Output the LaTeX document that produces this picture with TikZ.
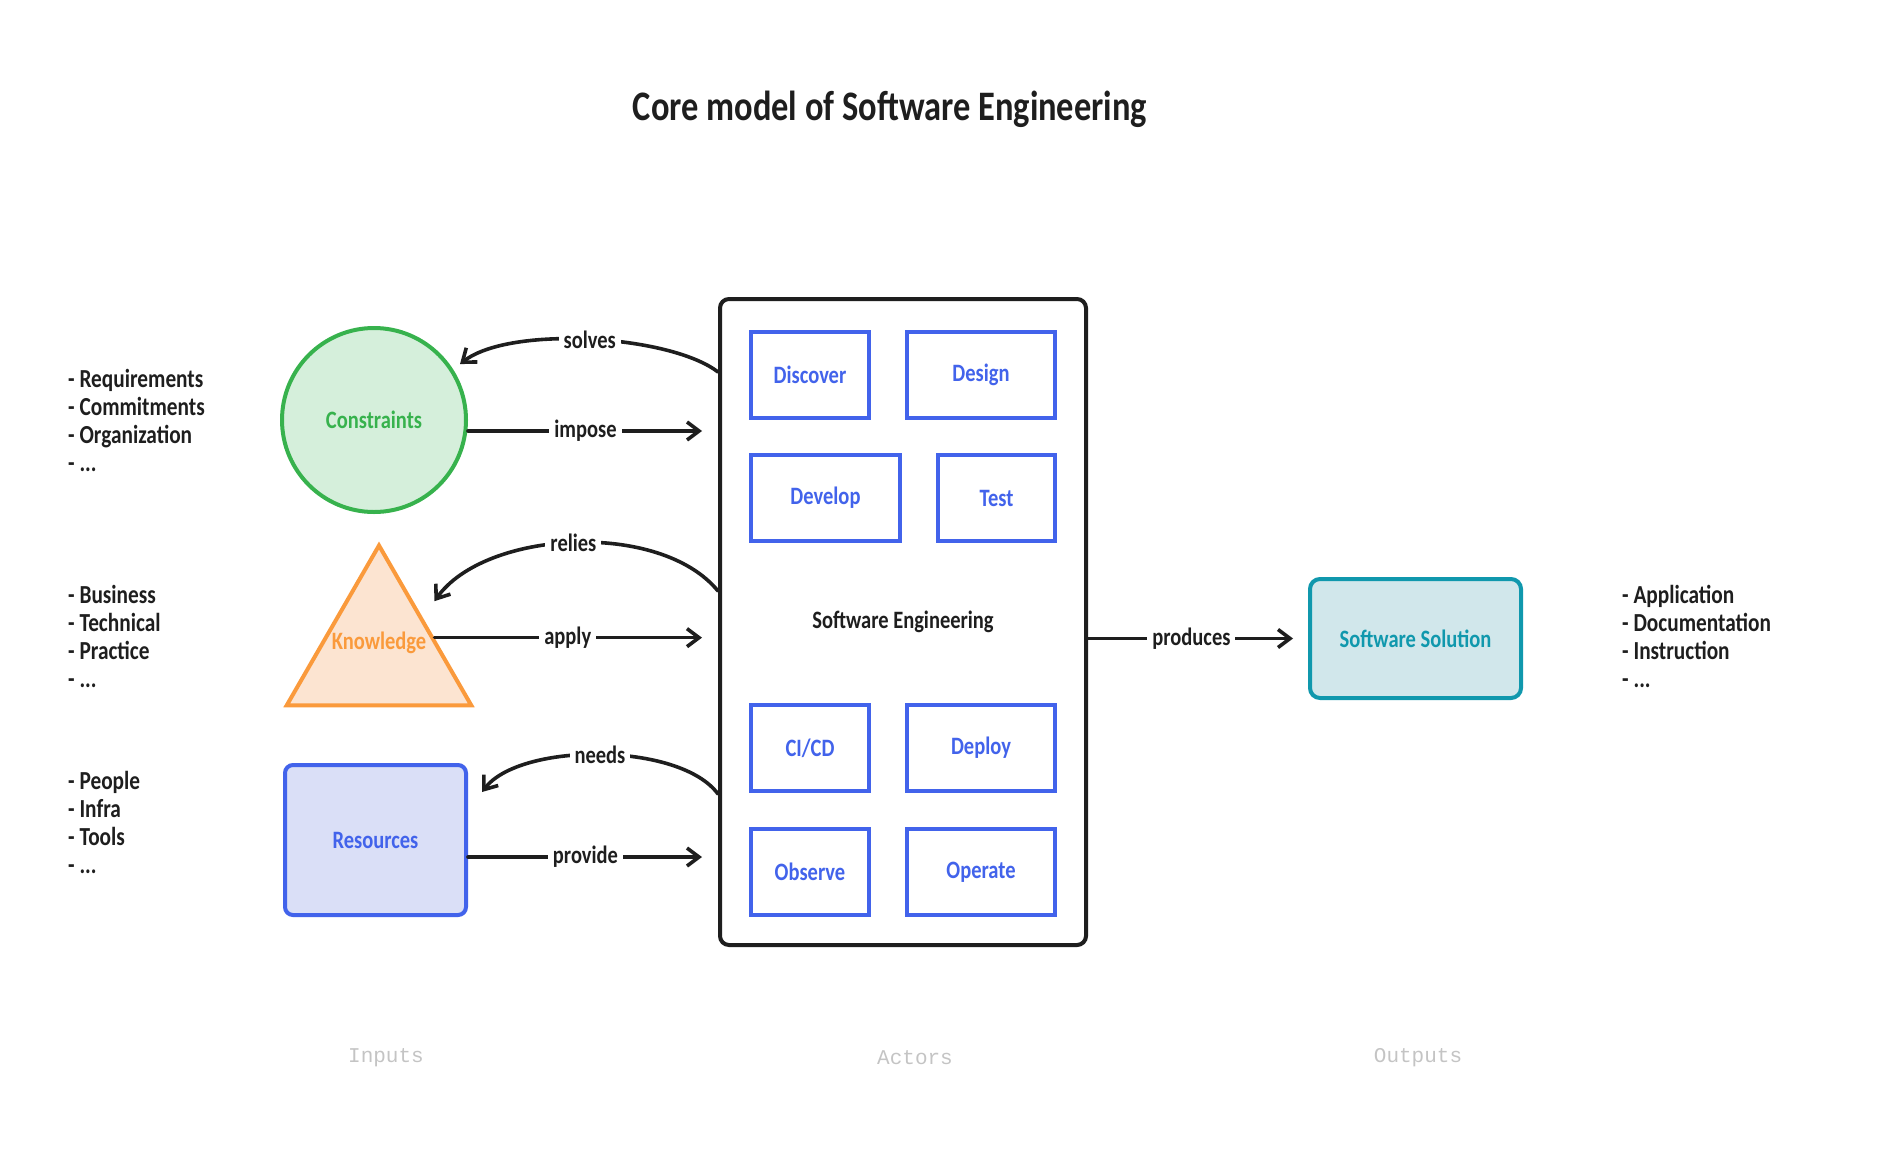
\documentclass[tikz,border=0pt]{standalone}
\usepackage{fontspec}
\setmainfont{Carlito}
\setmonofont{Liberation Mono}
\newfontfamily\handfont{Carlito}[FakeStretch=0.82]
\usetikzlibrary{arrows.meta,shapes.geometric,calc}

\definecolor{ink}{HTML}{1E1E1E}
\definecolor{leaf}{HTML}{37B24D}
\definecolor{leaffill}{HTML}{D5EFDB}
\definecolor{amber}{HTML}{FA9A3C}
\definecolor{amberfill}{HTML}{FCE4D1}
\definecolor{stageblue}{HTML}{4263EB}
\definecolor{stagefill}{HTML}{DADFF7}
\definecolor{sol}{HTML}{1098AD}
\definecolor{solfill}{HTML}{D1E7EB}
\definecolor{footgray}{HTML}{C4C4C4}

\begin{document}
\begin{tikzpicture}[x=1pt, y=-1pt,
		hand/.style={font=\handfont\bfseries\fontsize{25}{30}\selectfont},
		conn/.style={draw=ink, line width=3.6pt, line cap=round, -{Straight Barb[length=12pt,width=18pt]}},
		verb/.style={hand, fill=white, inner sep=5pt, text=ink},
		stage/.style={hand, draw=stageblue, line width=4pt, fill=white, text=stageblue, minimum height=86pt},
		items/.style={anchor=west, align=left, inner sep=0pt, text=ink, font=\handfont\bfseries\fontsize{26}{28}\selectfont},
		column/.style={text=footgray, font=\ttfamily\fontsize{21}{24}\selectfont}]

		\useasboundingbox (0,0) rectangle (1892,1154);

		\node[text=ink, font=\handfont\bfseries\fontsize{42}{48}\selectfont] (title) at (890,109) {Core model of Software Engineering};

		% inputs
		\node[hand, circle, draw=leaf, fill=leaffill, line width=4pt, minimum size=184pt, text=leaf] (cons) at (374,420) {Constraints};
		\node[regular polygon, regular polygon sides=3, draw=amber, fill=amberfill, line width=4pt, minimum size=213pt, inner sep=0pt,
			label={[hand, text=amber, yshift=9pt]center:Knowledge}] (know) at (379,652) {};
		\node[hand, draw=stageblue, fill=stagefill, line width=4pt, rounded corners=8pt, minimum width=181pt, minimum height=150pt, text=stageblue] (res) at (375.5,840) {Resources};

		\node[items] (conslist) at (68,420) {- Requirements\\- Commitments\\- Organization\\- ...};
		\node[items] (knowlist) at (68,636) {- Business\\- Technical\\- Practice\\- ...};
		\node[items] (reslist) at (68,822) {- People\\- Infra\\- Tools\\- ...};

		% actors
		\node[hand, draw=ink, fill=white, line width=4pt, rounded corners=9pt, minimum width=366pt, minimum height=646pt, text=ink] (se) at (903,622) {Software Engineering};

		\node[stage, minimum width=118pt] (disc) at (810,374.5) {Discover};
		\node[stage, minimum width=148pt] (design) at (981,374.5) {Design};
		\node[stage, minimum width=149pt] (dev) at (825.5,498) {Develop};
		\node[stage, minimum width=117pt] (test) at (996.5,498) {Test};
		\node[stage, minimum width=118pt] (cicd) at (810,748) {CI/CD};
		\node[stage, minimum width=148pt] (deploy) at (981,748) {Deploy};
		\node[stage, minimum width=118pt] (obs) at (810,872) {Observe};
		\node[stage, minimum width=148pt] (oper) at (981,872) {Operate};

		% outputs
		\node[hand, draw=sol, fill=solfill, line width=4pt, rounded corners=10pt, minimum width=211pt, minimum height=119pt, text=sol] (ss) at (1415.5,638.5) {Software Solution};
		\node[items] (sslist) at (1622,636) {- Application\\- Documentation\\- Instruction\\- ...};

		\node[column] (inputs) at (386,1058) {Inputs};
		\node[column] (actors) at (915,1058) {Actors};
		\node[column] (outputs) at (1418,1058) {Outputs};

		% connectors
		\coordinate (impfrom) at ($(cons.east)+(0,11)$);
		\coordinate (kedge) at ($(know.corner 1)!0.58!(know.corner 3)$);
		\coordinate (provfrom) at ($(res.east)+(0,17)$);

		\draw[conn] ([yshift=250pt]se.west) .. controls (670,335) and (510,325) .. ($(cons.35)+(9,-2)$)
			node[verb, pos=0.5] {solves};
		\draw[conn, shorten >=16pt] (impfrom) -- (impfrom -| se.west) node[verb, pos=0.47] {impose};

		\draw[conn] ([yshift=31pt]se.west) .. controls (660,520) and (485,530) .. ($(know.corner 1)!0.36!(know.corner 3)+(21,0)$)
			node[verb, pos=0.5] {relies};
		\draw[conn, shorten >=16pt] (kedge) -- (kedge -| se.west) node[verb, pos=0.47] {apply};

		\draw[conn] ([yshift=-172pt]se.west) .. controls (680,742) and (520,742) .. ($(res.north east)+(14,29)$)
			node[verb, pos=0.5] {needs};
		\draw[conn, shorten >=16pt] (provfrom) -- (provfrom -| se.west) node[verb, pos=0.47] {provide};

		\draw[conn, shorten >=15pt] (se.east |- ss.west) -- (ss.west) node[verb, pos=0.47] {produces};
	\end{tikzpicture}
\end{document}
